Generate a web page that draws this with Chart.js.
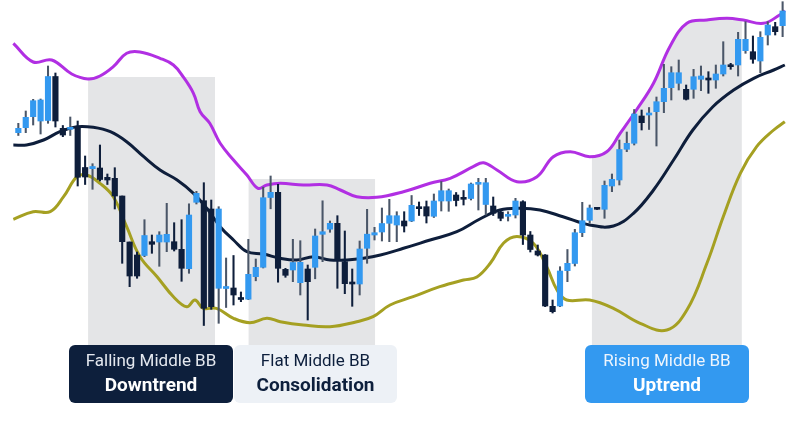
<!DOCTYPE html>
<html>
<head>
<meta charset="utf-8">
<title>Bollinger Bands - middle band trends</title>
<script src="https://cdn.jsdelivr.net/npm/chart.js@4.4.1/dist/chart.umd.min.js"></script>
<style>
  body { margin: 0; background: #fff; font-family: Roboto, "Noto Sans", sans-serif; }
  #wrap { position: relative; width: 791px; height: 426px; overflow: hidden; }
  #bb { position: absolute; left: 0; top: 0; }
  .tag { position: absolute; top: 345px; width: 164px; height: 58px; border-radius: 6px; text-align: center; }
  .tag .a { position: absolute; left: 0; right: 0; top: 5.2px; font-size: 17px; line-height: 20px; }
  .tag .b { position: absolute; left: 0; right: 0; top: 29px; font-size: 19px; line-height: 22px; font-weight: 700; }
  .down { left: 69px; background: #0d1f3c; color: #fff; }
  .down .a { color: #e4e8ef; }
  .flat { left: 234px; width: 163px; background: #edf1f6; color: #0d1f3c; }
  .up { left: 585px; background: #3399f0; color: #fff; }
  .up .a { color: #eef5fd; }
</style>
</head>
<body>
<div id="wrap">
  <canvas id="bb" width="791" height="426"></canvas>
  <div class="tag down"><div class="a">Falling Middle BB</div><div class="b">Downtrend</div></div>
  <div class="tag flat"><div class="a">Flat Middle BB</div><div class="b">Consolidation</div></div>
  <div class="tag up"><div class="a">Rising Middle BB</div><div class="b">Uptrend</div></div>
</div>
<script>
// candles, one per session (price units)
const opens = [
  267.3, 272.3, 283.3, 279, 279.5, 323.5, 271.7, 270.7, 271.7, 232.5,
  231.3, 232, 222.7, 221.7, 204, 158, 145, 144.5, 158.3, 158,
  158, 158.3, 150.7, 131.3, 197.7, 199.3, 191, 111.7, 111.5, 112,
  101.5, 100.8, 123.3, 132.7, 202.5, 207.7, 130.7, 130, 117.3, 131,
  132.7, 165.7, 170.8, 176.7, 138.3, 117.3, 116, 151.7, 165, 168,
  176.7, 175, 179, 179, 193.3, 193.3, 183.7, 199, 199, 205,
  201.5, 201.5, 215.7, 195.5, 194, 188, 183.7, 185, 198.3, 165,
  149, 145, 93.7, 94, 129.3, 136.5, 167.3, 179.7, 191.7, 190.7,
  214, 220, 250.7, 256.7, 284, 285, 288.3, 298.3, 312.3, 316.7,
  310.7, 310.7, 320.7, 321, 320, 326, 334.3, 335, 349.3, 348.3,
  339, 365, 373.3, 374.3
];
const closes = [
  271.7, 282.7, 299.3, 300, 323.5, 279, 265, 272.5, 222.7, 223,
  233.5, 220.5, 220, 204, 158.3, 124, 124, 164.5, 155.7, 165,
  165.7, 150.7, 131.7, 185, 206.7, 91.7, 93.3, 191, 113.3, 105,
  100.5, 125.7, 132.7, 202.3, 207.7, 131.7, 124.7, 137.5, 137.7, 118.3,
  164, 168.3, 176.7, 140, 116.3, 116, 151, 165.8, 167.3, 176.5,
  184.3, 184.3, 174, 194.7, 191.3, 184, 199, 209.3, 209.3, 199.5,
  200.7, 216, 217, 217.3, 186.7, 181.7, 184.7, 199, 165, 150.5,
  145, 94, 88.3, 129, 136.7, 167.3, 179.3, 192, 190.7, 214.7,
  220.7, 250.5, 256.7, 286, 277.3, 286.5, 298.3, 311.7, 327.3, 327.3,
  300.7, 323.3, 324, 320, 326, 335, 333.3, 360.7, 360.7, 340.7,
  362.7, 375, 368.3, 389
];
const highs = [
  276.7, 289, 300.7, 301, 334, 327, 274.5, 283, 279, 244,
  236.3, 255, 226, 232.3, 204, 158, 148, 180.3, 165, 168.3,
  196.7, 177.3, 180.3, 196.2, 208.7, 217.3, 200, 193.3, 142, 144.5,
  108, 160.7, 141, 212.8, 224, 215.7, 131.7, 160.7, 159.3, 135,
  171, 199.2, 179, 184.3, 169, 131, 159, 190.7, 172.7, 192,
  200.7, 188.3, 188.3, 204.5, 198, 199, 206, 218.5, 211, 207.5,
  209.5, 217, 221.7, 221.7, 203, 189.5, 188.3, 201.7, 199.3, 168.5,
  155, 145.5, 100, 133.3, 150.5, 170.7, 197.7, 195, 192, 219,
  226, 260, 268, 290.5, 290, 292.5, 303, 335.7, 333.3, 340,
  315, 330.7, 334, 328.3, 335, 358.3, 336.7, 367.7, 378.3, 364,
  368.3, 378.3, 377.7, 398.3
];
const lows = [
  264.5, 267.3, 275, 266, 276.7, 273, 263.3, 264.5, 214, 215.5,
  210.7, 219, 215.5, 191, 136.7, 113.3, 121.7, 143.3, 146.7, 133.7,
  148.3, 149, 118.7, 126.7, 196, 74.5, 90.7, 76.7, 92.5, 95,
  98.3, 100.3, 119.2, 132, 191.2, 117.8, 122.7, 118.3, 105, 80,
  121.2, 138.3, 167.7, 111.7, 106.3, 93.7, 105, 136.7, 160, 159,
  158.3, 158.3, 168, 178.3, 184.5, 177, 182.5, 189, 188.7, 194,
  195, 200, 190, 185, 184.5, 179.2, 179, 182, 155.5, 148,
  144, 93.3, 87, 93.3, 118.3, 134, 163.3, 177, 190.5, 181.7,
  208.3, 215, 248.3, 255, 270, 270.5, 254, 287.3, 300, 310,
  300, 301.7, 309.3, 306.7, 311.7, 324, 330.7, 324, 346.7, 336.7,
  327.3, 355, 365, 363.3
];

// bollinger bands, read at session positions
const upperX = [-0.67, 2, 4.5, 7.2, 9.4, 11, 12.8, 14.6, 16.4, 19.1, 20.9, 22.2, 23.6, 24.5, 25.8, 27.2, 29, 30.8, 32.3, 33.5, 35.3, 38.4, 41.6, 43.4, 45.6, 48.3, 51.9, 55.5, 58.2, 61.3, 62.7, 64.5, 67.2, 69.9, 72.1, 74.4, 77, 79.3, 81.1, 83.3, 85.6, 87.8, 90.1, 92.8, 95.5, 97.7, 100.4, 102.6, 103.3];
const upperY = [356.7, 338, 340, 326, 321, 324, 333.3, 346.7, 348, 341.7, 335, 323.3, 306.7, 288.3, 276.7, 256.7, 240, 225, 211.7, 215, 216.7, 215, 215, 210, 203.3, 202.7, 208.3, 216.7, 221.7, 233.3, 237.3, 230, 218.3, 223.3, 243.3, 248.3, 243.3, 248.3, 266.7, 290, 316.7, 353.3, 376.7, 380, 381.7, 380, 376.7, 385, 389.3];
const middleX = [-0.67, 1.1, 3.4, 5.6, 7.9, 10.1, 12.4, 14.6, 16.9, 19.1, 21.4, 23.6, 25.4, 27.2, 29, 30.8, 33, 35.3, 37.5, 39.8, 42, 44.3, 46.5, 48.8, 51.9, 55.5, 59.1, 62.2, 64.9, 67.6, 70.3, 73.4, 77, 80.2, 82.9, 85.6, 88.3, 90.9, 93.6, 96.4, 99.1, 101.8, 103.3];
const middleY = [255, 255, 260, 268.3, 273.3, 272.7, 268.3, 258.3, 243.3, 230, 220, 206.7, 191.7, 173.3, 160, 148.3, 146, 141.7, 140, 143.3, 140, 140, 141.7, 145, 151.7, 160, 168.3, 181, 190, 191.7, 190, 183.3, 175, 174, 186.7, 210, 240, 270, 293.3, 310, 321.7, 330, 335];
const lowerX = [-0.67, 2, 4.3, 6.1, 7.9, 9.2, 11, 12.8, 14.6, 16.4, 18.7, 20.9, 22.7, 23.8, 24.9, 26.7, 29, 31.2, 33.5, 35.3, 38.4, 42, 45.6, 47.8, 50.1, 53.2, 56.8, 60, 61.8, 63.6, 65.4, 67.2, 69.4, 71.2, 72.6, 73.9, 77, 80.2, 83.8, 87.4, 90.1, 92.8, 95, 97.3, 99.5, 101.8, 103.3];
const lowerY = [180.7, 188.3, 188.3, 203.3, 223.3, 225, 216.7, 203.3, 173.3, 143.3, 123.3, 103.3, 93.3, 100, 91.7, 91.7, 81.7, 77.3, 81.7, 78.3, 75, 73.3, 78.3, 83.3, 95, 103.3, 113.3, 120, 123, 136.7, 157, 163.5, 156.7, 133.3, 110, 100, 100, 91.7, 76.7, 70, 90, 136.7, 183.3, 226.7, 253.3, 270, 278.3];

// shaded phases (session ranges); null top = follow the upper band
const shadeFrom = [9.4, 31, 77.3];
const shadeTo = [26.5, 48.1, 97.5];
const shadeTop = [323, 221, null];
const shadeBase = 55;

const idx = opens.map((o, i) => i);
const upBlue = '#3399f0';
const downNavy = '#0e1e3b';
const bodyColors = idx.map(i => closes[i] >= opens[i] ? upBlue : downNavy);
const wickColors = idx.map(i => closes[i] >= opens[i] ? '#4a5668' : downNavy);

const pts = (xs, ys) => xs.map((x, i) => ({ x: x, y: ys[i] }));

const shadePlugin = {
  id: 'shade',
  beforeDatasetsDraw(chart) {
    const { ctx, scales: { x, y } } = chart;
    const band = chart.getDatasetMeta(0).data;
    const b = y.getPixelForValue(shadeBase);
    ctx.save();
    ctx.fillStyle = '#e4e5e7';
    shadeFrom.forEach((from, k) => {
      const l = x.getPixelForValue(from);
      const r = x.getPixelForValue(shadeTo[k]);
      ctx.save();
      ctx.beginPath();
      ctx.rect(l, 0, r - l, b);
      ctx.clip();
      ctx.beginPath();
      if (shadeTop[k] === null) {
        band.forEach((p, i) => {
          if (i === 0) ctx.moveTo(p.x, p.y);
          else {
            const q = band[i - 1];
            ctx.bezierCurveTo(q.cp2x, q.cp2y, p.cp1x, p.cp1y, p.x, p.y);
          }
        });
        ctx.lineTo(band[band.length - 1].x, b);
        ctx.lineTo(band[0].x, b);
        ctx.closePath();
      } else {
        const t = y.getPixelForValue(shadeTop[k]);
        ctx.rect(l, t, r - l, b - t);
      }
      ctx.fill();
      ctx.restore();
    });
    ctx.restore();
  }
};

const lineStyle = { type: 'line', pointRadius: 0, borderWidth: 3, tension: 0.4, fill: false };

const config = {
  type: 'bar',
  data: {
    datasets: [
      { ...lineStyle, label: 'Upper BB', data: pts(upperX, upperY), borderColor: '#b12fe3', order: 4 },
      { ...lineStyle, label: 'Middle BB', data: pts(middleX, middleY), borderColor: '#0e1e3b', order: 3 },
      { ...lineStyle, label: 'Lower BB', data: pts(lowerX, lowerY), borderColor: '#a5a022', order: 5 },
      {
        label: 'wick',
        data: idx.map(i => ({ x: i, y: [lows[i], highs[i]] })),
        backgroundColor: wickColors,
        barThickness: 1.4,
        grouped: false,
        order: 1
      },
      {
        label: 'body',
        data: idx.map(i => ({ x: i, y: [opens[i], closes[i]] })),
        backgroundColor: bodyColors,
        barThickness: 5.5,
        minBarLength: 2,
        grouped: false,
        order: 0
      }
    ]
  },
  options: {
    responsive: false,
    animation: false,
    layout: { padding: 0 },
    plugins: { legend: { display: false }, tooltip: { enabled: false } },
    scales: {
      x: { type: 'linear', display: false, min: -2.47, max: 104.13, offset: false },
      y: { display: false, min: -26, max: 400 }
    }
  },
  plugins: [shadePlugin]
};

const bbChart = new Chart(document.getElementById('bb'), config);
</script>
</body>
</html>
